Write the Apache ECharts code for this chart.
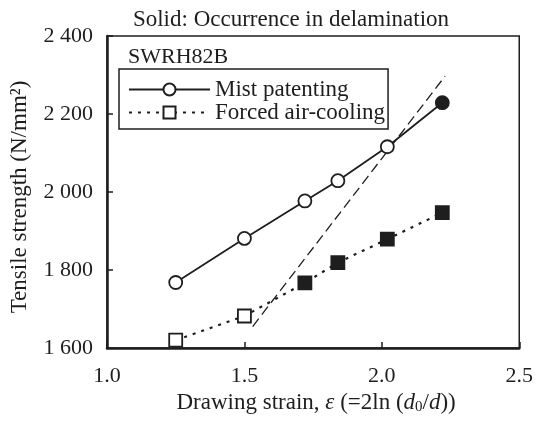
<!DOCTYPE html>
<html>
<head>
<meta charset="utf-8">
<script src="https://cdn.jsdelivr.net/npm/echarts@6/dist/echarts.min.js"></script>
<style>
  html, body { margin: 0; padding: 0; background: #fff; }
  #container { width: 536px; height: 421px; }
</style>
</head>
<body>
<div id="container"></div>
<script>
var FONT = "'Liberation Serif', 'Times New Roman', serif";
var INK = '#1e1e1e';

// drawing strain (x)
var strain = [1.25, 1.5, 1.72, 1.84, 2.02, 2.22];
// tensile strength, N/mm2
var mist = [1768, 1881, 1977, 2029, 2116, 2229];
var forced = [1620, 1682, 1767, 1819, 1879, 1947];
// solid marker = delamination occurred
var mistSolid = [false, false, false, false, false, true];
var forcedSolid = [false, false, true, true, true, true];
// dashed boundary line
var boundX = [1.53, 2.23];
var boundY = [1655, 2297];

var xTicks = [1.0, 1.5, 2.0, 2.5];
var yTicks = [1600, 1800, 2000, 2200, 2400];

function pts(xs, ys, solid) {
  return xs.map(function (x, i) {
    var p = { value: [x, ys[i]] };
    if (solid && solid[i]) p.itemStyle = { color: INK };
    return p;
  });
}

var myChart = echarts.init(document.getElementById('container'));

var option = {
  animation: false,
  backgroundColor: '#fff',
  textStyle: { fontFamily: FONT, color: INK },
  title: {
    text: 'Solid: Occurrence in delamination',
    left: 286,
    top: 3,
    textAlign: 'center',
    textStyle: { fontFamily: FONT, fontSize: 23, fontWeight: 'normal', color: INK }
  },
  grid: {
    left: 107, right: 14, top: 36, bottom: 73,
    show: true, borderColor: INK, borderWidth: 1.5
  },
  graphic: [{
    type: 'text', left: 128, top: 46,
    style: { text: 'SWRH82B', font: '22px ' + FONT, fill: INK }
  }, {
    type: 'text', x: 20, y: 197, rotation: Math.PI / 2,
    style: {
      text: 'Tensile strength (N/mm²)', font: '23px ' + FONT, fill: INK,
      textAlign: 'center', textVerticalAlign: 'middle'
    }
  }],
  legend: {
    orient: 'vertical',
    left: 119, top: 69,
    padding: [9, 3, 5, 9],
    itemWidth: 81, itemHeight: 15, itemGap: 0,
    borderColor: INK, borderWidth: 1.5,
    textStyle: { fontFamily: FONT, fontSize: 23, lineHeight: 20, color: INK },
    data: ['Mist patenting', 'Forced air-cooling']
  },
  xAxis: {
    type: 'value',
    min: xTicks[0], max: xTicks[xTicks.length - 1], interval: 0.5,
    splitLine: { show: false },
    axisLine: { lineStyle: { color: INK, width: 2.5 } },
    axisTick: { inside: true, length: 6, lineStyle: { color: INK, width: 1.5 } },
    axisLabel: {
      margin: 17, fontSize: 22, fontFamily: FONT, color: INK,
      formatter: function (v) { return v.toFixed(1); }
    },
    name: 'Drawing strain, {i|ε} (=2ln ({i|d}{sub|0}/{i|d}))',
    nameLocation: 'middle',
    nameGap: 42,
    nameTextStyle: {
      fontSize: 23, fontFamily: FONT, color: INK, padding: [0, 0, 0, 6],
      rich: {
        i: { fontSize: 23, fontStyle: 'italic', fontFamily: FONT, color: INK },
        sub: { fontSize: 15, fontFamily: FONT, color: INK, verticalAlign: 'bottom', lineHeight: 12 }
      }
    }
  },
  yAxis: {
    type: 'value',
    min: yTicks[0], max: yTicks[yTicks.length - 1], interval: 200,
    splitLine: { show: false },
    axisLine: { show: true, lineStyle: { color: INK, width: 2.5 } },
    axisTick: { show: true, inside: true, length: 6, lineStyle: { color: INK, width: 1.5 } },
    axisLabel: {
      margin: 14, fontSize: 22, fontFamily: FONT, color: INK,
      formatter: function (v) { return String(v).replace(/(\d)(\d{3})$/, '$1 $2'); }
    }
  },
  series: [
    {
      name: 'boundary', type: 'line',
      data: pts(boundX, boundY),
      symbol: 'none', silent: true, z: 1,
      lineStyle: { color: INK, width: 1.3, type: [10, 5] }
    },
    {
      name: 'Mist patenting', type: 'line',
      data: pts(strain, mist, mistSolid),
      symbol: 'circle', symbolSize: 13, z: 3,
      lineStyle: { color: INK, width: 1.8 },
      itemStyle: { color: '#fff', borderColor: INK, borderWidth: 1.8 }
    },
    {
      name: 'Forced air-cooling', type: 'line',
      data: pts(strain, forced, forcedSolid),
      symbol: 'rect', symbolSize: 13, z: 3,
      lineStyle: { color: INK, width: 2.2, type: [3, 6] },
      itemStyle: { color: '#fff', borderColor: INK, borderWidth: 1.8 }
    }
  ]
};

myChart.setOption(option);
</script>
</body>
</html>
